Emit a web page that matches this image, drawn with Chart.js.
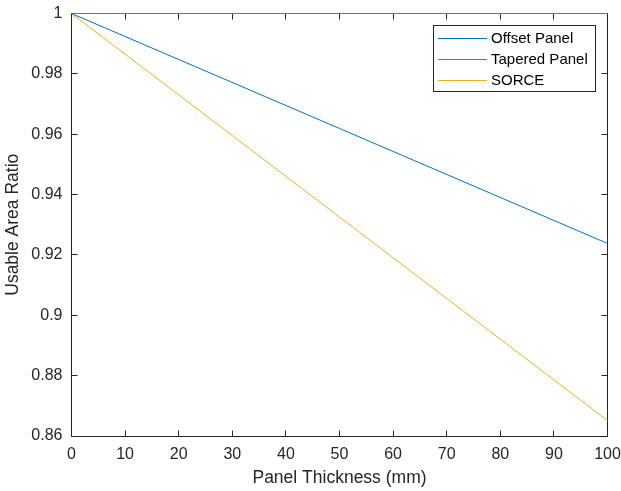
<!DOCTYPE html>
<html>
<head>
<meta charset="utf-8">
<script src="https://cdn.jsdelivr.net/npm/chart.js@4.4.0/dist/chart.umd.min.js"></script>
<style>
  html, body { margin: 0; padding: 0; background: #fff; }
  #wrap { width: 621px; height: 491px; }
</style>
</head>
<body>
<div id="wrap"><canvas id="myChart" width="621" height="491"></canvas></div>
<script>
// Panel thickness (mm) and usable area ratio per design
const thickness = [0, 100];
const offsetPanel = [1, 0.9238];
const taperedPanel = [1, 1];
const sorce = [1, 0.8651];

const xTicks = [0, 10, 20, 30, 40, 50, 60, 70, 80, 90, 100];
const yTicks = [0.86, 0.88, 0.9, 0.92, 0.94, 0.96, 0.98, 1];

const seriesNames = ["Offset Panel", "Tapered Panel", "SORCE"];
const seriesColors = ["#0072BD", "#D95319", "#EDB120"];

const FONT = "'Liberation Sans', Arial, Helvetica, sans-serif";
const AXIS = '#262626';

function toPoints(ys) {
    return thickness.map((x, i) => ({ x: x, y: ys[i] }));
}

// Box and inward ticks on all four sides, MATLAB style, then legend
const boxTicks = {
    id: 'boxTicks',
    beforeDatasetsDraw(chart) {
        const ctx = chart.ctx;
        const a = chart.chartArea;
        const xs = chart.scales.x, ys = chart.scales.y;
        const len = 6;
        const L = Math.floor(a.left) + 0.5, R = Math.floor(a.right) + 0.5;
        const T = Math.floor(a.top) + 0.5, B = Math.floor(a.bottom) + 0.5;
        ctx.save();
        ctx.strokeStyle = AXIS;
        ctx.lineWidth = 1;
        ctx.beginPath();
        xTicks.forEach((v) => {
            const px = Math.floor(xs.getPixelForValue(v)) + 0.5;
            ctx.moveTo(px, B); ctx.lineTo(px, B - len);
            ctx.moveTo(px, T); ctx.lineTo(px, T + len);
        });
        yTicks.forEach((v) => {
            const py = Math.floor(ys.getPixelForValue(v)) + 0.5;
            ctx.moveTo(L, py); ctx.lineTo(L + len, py);
            ctx.moveTo(R, py); ctx.lineTo(R - len, py);
        });
        ctx.stroke();
        ctx.strokeRect(L, T, R - L, B - T);
        ctx.restore();
    },
    afterDraw(chart) {
        const ctx = chart.ctx;
        const bx = 433.5, by = 25.5, w = 162, h = 66;
        ctx.save();
        ctx.fillStyle = '#fff';
        ctx.fillRect(bx, by, w, h);
        ctx.strokeStyle = AXIS;
        ctx.lineWidth = 1;
        ctx.strokeRect(bx, by, w, h);
        ctx.font = '15px ' + FONT;
        ctx.textBaseline = 'middle';
        ctx.textAlign = 'left';
        seriesNames.forEach((name, i) => {
            const cy = 38 + i * 21;
            ctx.fillStyle = seriesColors[i];
            ctx.fillRect(438, cy, 49, 1);
            ctx.fillStyle = '#000';
            ctx.fillText(name, 491, cy + 1);
        });
        ctx.restore();
    }
};

function main() {
    new Chart(document.getElementById("myChart"), {
        type: "scatter",
        data: {
            datasets: [
                { label: seriesNames[0], data: toPoints(offsetPanel), borderColor: seriesColors[0] },
                { label: seriesNames[1], data: toPoints(taperedPanel), borderColor: seriesColors[1] },
                { label: seriesNames[2], data: toPoints(sorce), borderColor: seriesColors[2] }
            ].map((d) => Object.assign(d, {
                showLine: true, borderWidth: 1, pointRadius: 0, fill: false, tension: 0, clip: false
            }))
        },
        options: {
            responsive: false,
            animation: false,
            layout: { padding: { top: 13.5, right: 13.5, left: 0, bottom: 0 } },
            plugins: { legend: { display: false }, tooltip: { enabled: false } },
            scales: {
                x: {
                    type: 'linear', min: 0, max: 100,
                    afterBuildTicks: (s) => { s.ticks = xTicks.map((v) => ({ value: v })); },
                    afterFit: (s) => { s.height = 55; s.paddingLeft = 0; s.paddingRight = 0; },
                    grid: { display: false, drawTicks: false },
                    border: { display: false },
                    ticks: { color: AXIS, padding: 9, font: { family: FONT, size: 16 }, maxRotation: 0 },
                    title: { display: true, text: 'Panel Thickness (mm)', color: AXIS,
                        font: { family: FONT, size: 17.5 }, padding: { top: 0, bottom: 2 } }
                },
                y: {
                    type: 'linear', min: 0.86, max: 1,
                    afterBuildTicks: (s) => { s.ticks = yTicks.map((v) => ({ value: v })); },
                    afterFit: (s) => { s.width = 71.5; s.paddingTop = 0; s.paddingBottom = 0; },
                    grid: { display: false, drawTicks: false },
                    border: { display: false },
                    ticks: { color: AXIS, padding: 9, font: { family: FONT, size: 16 },
                        callback: (v) => String(Math.round(v * 100) / 100) },
                    title: { display: true, text: 'Usable Area Ratio', color: AXIS,
                        font: { family: FONT, size: 17.5 }, padding: { top: 3, bottom: 0 } }
                }
            }
        },
        plugins: [boxTicks]
    });
}

document.addEventListener('DOMContentLoaded', main);
</script>
</body>
</html>
